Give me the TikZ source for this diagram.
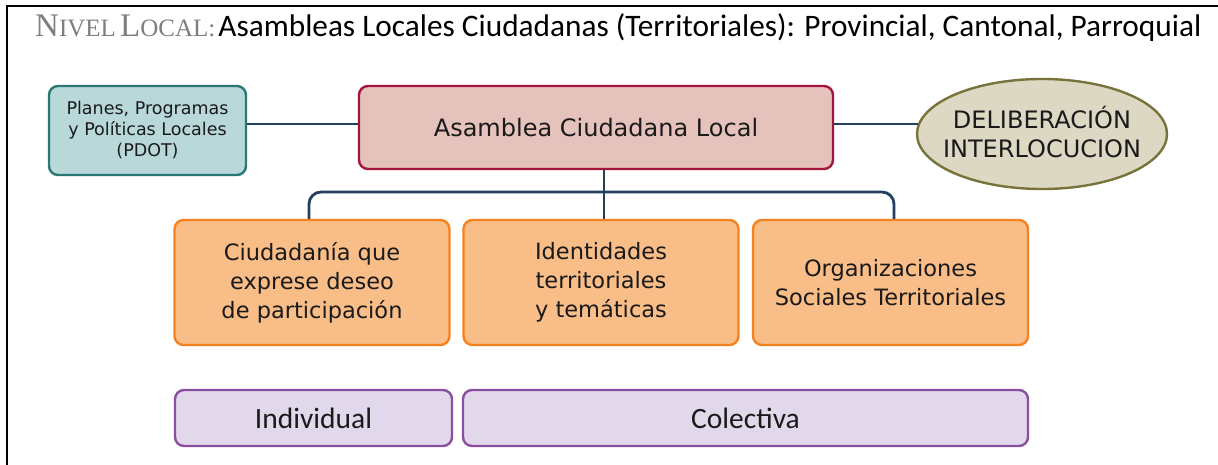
\documentclass[tikz,border=0pt]{standalone}
\usepackage{fontspec}
\setmainfont{DejaVu Sans}
\newfontfamily\titleserif{Liberation Serif}
\newfontfamily\condsans{Carlito}
\usetikzlibrary{shapes.geometric}
\pgfdeclarelayer{bg}
\pgfsetlayers{bg,main}
\definecolor{tgray}{HTML}{7F7F7F}
\definecolor{txt}{HTML}{1A1A1A}
\definecolor{tealfill}{HTML}{B8D8DA}
\definecolor{tealdraw}{HTML}{2A7876}
\definecolor{redfill}{HTML}{E6C2BC}
\definecolor{reddraw}{HTML}{A3163C}
\definecolor{ellfill}{HTML}{DDD8C4}
\definecolor{elldraw}{HTML}{77733A}
\definecolor{orfill}{HTML}{F9BD88}
\definecolor{ordraw}{HTML}{F5821F}
\definecolor{pufill}{HTML}{E2D8EC}
\definecolor{pudraw}{HTML}{8A4FA0}
\definecolor{navy}{HTML}{243F60}
\tikzset{
  box/.style={rectangle, rounded corners=9pt, line width=2.4pt, inner sep=0pt, align=center, text=txt},
  pdotbox/.style={box, fill=tealfill, draw=tealdraw, minimum width=197pt, minimum height=89pt, font=\fontsize{17.5}{21}\selectfont},
  asmbox/.style={box, fill=redfill, draw=reddraw, minimum width=474pt, minimum height=83pt, font=\fontsize{24}{28}\selectfont},
  ellbox/.style={ellipse, fill=ellfill, draw=elldraw, line width=2.4pt, inner sep=0pt, minimum width=250pt, minimum height=110pt},
  elltext/.style={inner sep=0pt, align=center, text=txt, font=\fontsize{24}{29}\selectfont},
  orbox/.style={box, fill=orfill, draw=ordraw, minimum width=275pt, minimum height=125pt, font=\fontsize{22.5}{29}\selectfont},
  pubox/.style={box, fill=pufill, draw=pudraw, minimum height=56pt, font=\condsans\fontsize{29.5}{30}\selectfont},
  conn/.style={draw=navy, line width=2.8pt, rounded corners=12pt},
}
\begin{document}
\begin{tikzpicture}[x=1pt,y=-1pt]
\useasboundingbox (0,0) rectangle (1218,465);
\begin{pgfonlayer}{bg}
\fill[white] (0,0) rectangle (1218,465);
\end{pgfonlayer}
% frame
\coordinate (f1) at (7,465);
\coordinate (f2) at (7,6);
\coordinate (f3) at (1218,6);
\draw[black, line width=2pt] (f1) -- (f2) -- (f3);
% title
\node[anchor=base west, inner sep=0pt] (title) at (35,37) {{\titleserif\color{tgray}{\fontsize{33}{33}\selectfont N}{\fontsize{25}{25}\selectfont IVEL\,}{\fontsize{33}{33}\selectfont L}{\fontsize{25}{25}\selectfont OCAL:}}\ {\condsans\color{black}\fontsize{31.3}{31.3}\selectfont Asambleas Locales Ciudadanas (Territoriales): Provincial, Cantonal, Parroquial}};
% nodes
\node[pdotbox] (pdot) at (147.5,130.5) {Planes, Programas\\y Políticas Locales\\(PDOT)};
\node[asmbox] (asm) at (596,127.5) {Asamblea Ciudadana Local};
\node[ellbox] (ell) at (1042,134) {};
\node[elltext] (ellt) at ([yshift=1.5pt]ell.center) {DELIBERACIÓN\\INTERLOCUCION};
\node[orbox] (o1) at (312,282.5) {Ciudadanía que\\exprese deseo\\de participación};
\node[orbox] (o2) at (601,282.5) {Identidades\\territoriales\\y temáticas};
\node[orbox] (o3) at (890.5,282.5) {Organizaciones\\Sociales Territoriales};
\node[pubox, minimum width=277pt] (ind) at (313.5,418) {Individual};
\node[pubox, minimum width=565pt] (col) at (745.5,418) {Colectiva};
% connectors
\coordinate (hl) at (596,124);
\coordinate (tj) at (604,192);
\begin{pgfonlayer}{bg}
\draw[conn] (pdot.center |- hl) -- (ell.center |- hl);
\end{pgfonlayer}
\draw[conn] ([xshift=-3pt]o1.north) |- (tj) -| ([xshift=3.5pt]o3.north);
\draw[conn] (asm.south -| tj) -- (o2.north -| tj);
\end{tikzpicture}
\end{document}
